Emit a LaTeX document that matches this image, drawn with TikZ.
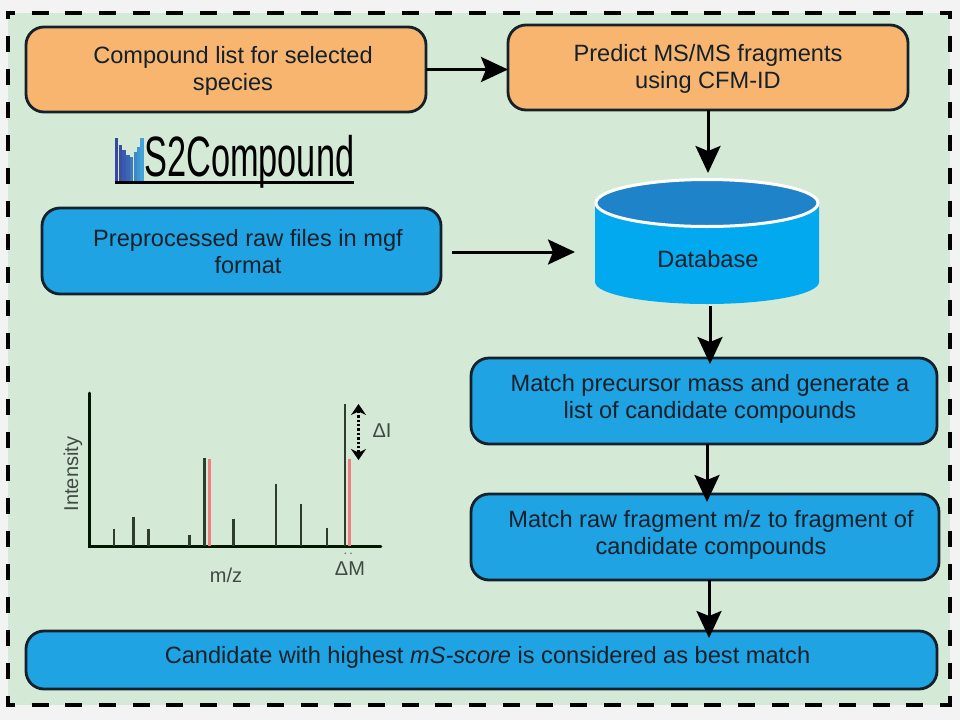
\documentclass[tikz,border=0pt]{standalone}
\usepackage{fontspec}
\usepackage{graphicx}
\setmainfont{Liberation Sans}
\usetikzlibrary{arrows.meta,calc}
\definecolor{pagebg}{HTML}{F3F3F3}
\definecolor{panel}{HTML}{D5EAD6}
\definecolor{orangebox}{HTML}{F7B56F}
\definecolor{bluebox}{HTML}{1FA3E2}
\definecolor{cyl}{HTML}{02A9EE}
\definecolor{cyltop}{HTML}{1E83C9}
\definecolor{ink}{HTML}{14202A}
\definecolor{bar}{HTML}{2E3D30}
\definecolor{redbar}{HTML}{EE7F7F}
\definecolor{grayink}{HTML}{3F4A42}
\tikzset{
  x=1pt,y=-1pt,
  flowbox/.style={draw=ink,line width=2.8pt,rounded corners=18pt,anchor=north west,inner sep=0pt,outer sep=0pt},
  boxtext/.style={font=\fontsize{23.6}{27}\selectfont,text=ink,align=center,inner sep=0pt},
  flowarrow/.style={line width=3pt,black,-{Stealth[length=27pt,width=25pt,inset=5pt]}},
  spike/.style={bar,line width=2.4pt},
  redspike/.style={redbar,line width=3pt},
  axis/.style={black!90!green,line width=2.8pt,line cap=round},
  plotlabel/.style={font=\fontsize{20}{22}\selectfont,text=grayink,inner sep=0pt},
  hdash/.style={black,line width=4pt,dash pattern=on 17pt off 16.64pt,dash phase=8pt},
  vdash/.style={black,line width=4pt,dash pattern=on 16.5pt off 16.5pt,dash phase=8.5pt},
}
\begin{document}
\begin{tikzpicture}
\useasboundingbox (0,0) rectangle (960,720);
\fill[pagebg] (0,0) rectangle (960,720);
\fill[panel] (8,13) rectangle (950,705);
\draw[hdash] (6,13) -- (952,13);
\draw[hdash] (6,705) -- (952,705);
\draw[vdash] (8,11) -- (8,707);
\draw[vdash] (950,11) -- (950,707);

% boxes
\node[flowbox,fill=orangebox,minimum width=400pt,minimum height=85pt] (o1) at (26,27) {};
\node[flowbox,fill=orangebox,minimum width=400pt,minimum height=85pt] (o2) at (508,25) {};
\node[flowbox,fill=bluebox,minimum width=399pt,minimum height=86pt] (mgf) at (42,208) {};
\node[flowbox,fill=bluebox,minimum width=466pt,minimum height=86pt] (m1) at (471,358) {};
\node[flowbox,fill=bluebox,minimum width=468pt,minimum height=86pt] (m2) at (471,494) {};
\node[flowbox,fill=bluebox,minimum width=911pt,minimum height=58pt] (fin) at (26,631) {};

\node[boxtext] (o1t) at ([xshift=7pt,yshift=-1pt]o1.center) {Compound list for selected\\species};
\node[boxtext] (o2t) at ([yshift=-1pt]o2.center) {Predict MS/MS fragments\\using CFM-ID};
\node[boxtext] (mgft) at ([xshift=6.5pt,yshift=-1pt]mgf.center) {Preprocessed raw files in mgf\\format};
\node[boxtext] (m1t) at ([xshift=6pt,yshift=2.5pt]m1.center) {Match precursor mass and generate a\\list of candidate compounds};
\node[boxtext] (m2t) at ([xshift=6pt,yshift=2pt]m2.center) {Match raw fragment m/z to fragment of\\candidate compounds};
\node[boxtext] (fint) at ([xshift=6pt,yshift=2.5pt]fin.center) {Candidate with highest \textit{mS-score} is considered as best match};

% database
\fill[cyl] (595,203) -- (595,282) arc[start angle=180,end angle=360,x radius=112pt,y radius=22pt] -- (819,203) -- cycle;
\draw[white,line width=3pt,fill=cyltop] (707,203) ellipse[x radius=111pt,y radius=23.5pt];
\node[boxtext,inner sep=0pt] (db) at (708,259) {Database};
\coordinate (dbtop) at (707,178);
\coordinate (dbbot) at (710,304);
\coordinate (dbleft) at (595,252);

% connectors
\draw[flowarrow] (o1.east) -- (o2.west |- o1.east);
\draw[flowarrow,shorten >=5pt] (o2.south) -- (dbtop -| o2.south);
\draw[flowarrow,shorten <=11pt,shorten >=20pt] (mgf.east |- dbleft) -- (dbleft);
\draw[flowarrow,shorten >=-6pt,shorten <=2pt] (dbbot) -- (dbbot |- m1.north);
\draw[flowarrow,shorten >=-8pt] ([xshift=3pt]m1.south) -- ([xshift=3pt]m1.south |- m2.north);
\draw[flowarrow,shorten >=-7pt] ([xshift=4pt]m2.south) -- ([xshift=4pt]m2.south |- fin.north);

% logo
\foreach \xa/\ya/\col in {115/138/37489E,118.7/145/3A4FA4,122.4/150/3A5AAE,126.1/155/3C66B5,129.8/157/3F78C0,133.5/152/3F88C8,137.2/147/4096D0,140.4/138/42A4D8}{
  \definecolor{logobar}{HTML}{\col}
  \fill[logobar] (\xa,\ya) rectangle ({\xa+3.4},182);
}
\node[inner sep=0pt,anchor=south west,text=black] (logo) at (144,188.5) {\resizebox*{210pt}{53pt}{S2Compound}};
\draw[black,line width=2.4pt] (114.5,182.5) -- (354,182.5);

% spectrum
\draw[axis] (89.3,393) -- (89.3,546.7) -- (381,546.7);
\foreach \xa/\ya in {114/528.5,133.5/516.5,148.5/528.5,189.5/535,204.5/457.5,233.5/518.5,276/483.5,301/504,327/527.5,345/404}
  \draw[spike] (\xa,\ya) -- (\xa,546);
\foreach \xa in {209.5,349.8}
  \draw[redspike] (\xa,459) -- (\xa,546);
\coordinate (ditop) at (358.5,404);
\coordinate (dibot) at (358.5,460);
\draw[black,line width=2.4pt,dotted,{Stealth[length=11pt,width=15pt]}-{Stealth[length=11pt,width=15pt]}] (ditop) -- (dibot);
\node[plotlabel] (dI) at (382,431) {ΔI};
\node[plotlabel,rotate=90] (inty) at (73,474) {Intensity};
\node[plotlabel] (mz) at (226,575) {m/z};
\node[plotlabel] (dM) at (350,569) {ΔM};
\fill[grayink!70!panel] (345.3,553.3) circle (0.9pt) (351,553.3) circle (0.9pt);
\end{tikzpicture}
\end{document}
